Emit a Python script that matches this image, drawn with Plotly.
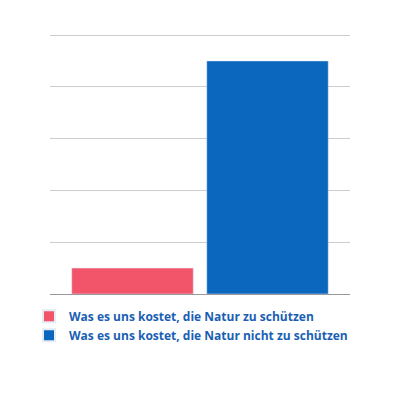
import plotly.graph_objects as go

labels = ["Was es uns kostet, die Natur zu schützen",
          "Was es uns kostet, die Natur nicht zu schützen"]
values = [0.5, 4.5]
colors = ["#f2546a", "#0a67bd"]

fig = go.Figure()
for lab, val, col in zip(labels, values, colors):
    fig.add_trace(go.Bar(x=[""], y=[val], name=lab, marker_color=col))

fig.update_layout(
    width=400, height=400,
    margin=dict(l=42, r=58, t=26, b=114),
    paper_bgcolor="white", plot_bgcolor="white",
    barmode="group", bargap=0.1, bargroupgap=0.1,
    showlegend=True,
    legend=dict(orientation="v", x=-0.07, y=-0.03, xanchor="left", yanchor="top",
                font=dict(family="Open Sans", size=12, color="#1a5fb4", weight="bold"),
                itemsizing="constant", tracegroupgap=14),
    yaxis=dict(range=[0, 5.02], dtick=1, showticklabels=False, gridcolor="#cccccc",
               zeroline=True, zerolinecolor="#999999", zerolinewidth=1),
    xaxis=dict(showticklabels=False),
)
fig.write_html("out.html")
